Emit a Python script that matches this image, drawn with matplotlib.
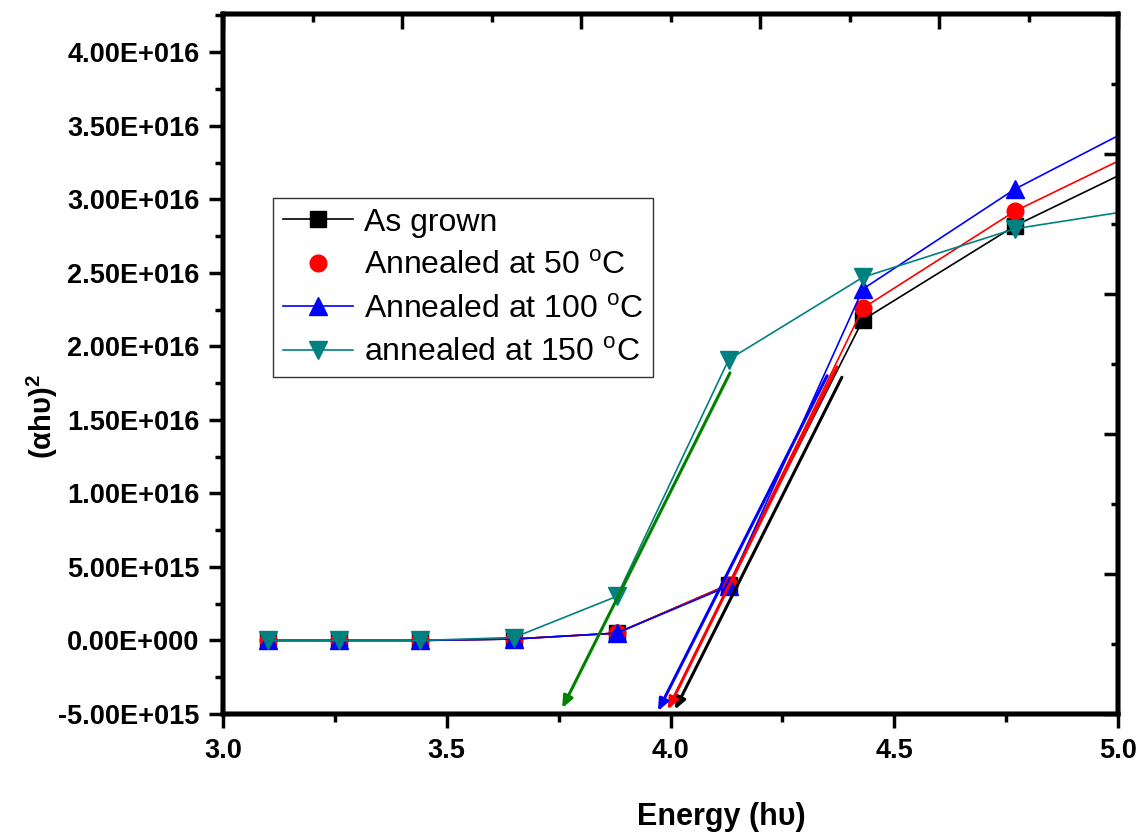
import numpy as np
import matplotlib
matplotlib.use('Agg')
import matplotlib.pyplot as plt
from matplotlib.lines import Line2D
from matplotlib.ticker import FuncFormatter, MultipleLocator

plt.rcParams['font.family'] = ['Liberation Sans', 'DejaVu Sans']
plt.rcParams['mathtext.fontset'] = 'custom'
plt.rcParams['mathtext.rm'] = 'Liberation Sans'
plt.rcParams['mathtext.bf'] = 'Liberation Sans:bold'

# photon energy (eV) of the measured wavelengths
energy = [3.10, 3.26, 3.44, 3.65, 3.88, 4.13, 4.43, 4.77, 5.17]

# (alpha h nu)^2 values
as_grown = [0.0, 0.0, 0.0, 0.1e15, 0.5e15, 3.8e15, 21.8e15, 28.2e15, 34.1e15]
ann_50 = [0.0, 0.0, 0.0, 0.1e15, 0.5e15, 3.8e15, 22.6e15, 29.2e15, 35.1e15]
ann_100 = [0.0, 0.0, 0.0, 0.1e15, 0.5e15, 3.7e15, 23.9e15, 30.7e15, 37.0e15]
ann_150 = [0.0, 0.0, 0.0, 0.2e15, 3.0e15, 19.1e15, 24.7e15, 28.0e15, 29.9e15]

# linear extrapolation lines (start point, arrow tip)
fit_x_start = [4.383, 4.372, 4.350, 4.133]
fit_y_start = [17.9e15, 18.6e15, 18.0e15, 18.2e15]
fit_x_tip = [4.010, 3.994, 3.972, 3.758]
fit_y_tip = [-4.7e15, -4.7e15, -4.8e15, -4.6e15]
fit_colors = ['black', 'red', 'blue', 'green']

labels = ['As grown', r'Annealed at 50 $^{\mathrm{o}}$C',
          r'Annealed at 100 $^{\mathrm{o}}$C', r'annealed at 150 $^{\mathrm{o}}$C']

fig = plt.figure(figsize=(11.44, 8.35), dpi=100)
ax = fig.add_axes([223/1144, 1-714/835, (1118-223)/1144, (714-14)/835])

ax.plot(energy, as_grown, color='black', lw=1.2, marker='s', ms=11)
ax.plot(energy, ann_50, color='red', lw=1.2, marker='o', ms=12)
ax.plot(energy, ann_100, color='blue', lw=1.2, marker='^', ms=13)
ax.plot(energy, ann_150, color='#008080', lw=1.2, marker='v', ms=13)

for i in range(4):
    ax.annotate('', xy=(fit_x_tip[i], fit_y_tip[i]),
                xytext=(fit_x_start[i], fit_y_start[i]),
                arrowprops=dict(arrowstyle='-|>,head_length=0.7,head_width=0.3',
                                color=fit_colors[i], lw=2.2, shrinkA=0, shrinkB=0))

ax.set_xlim(3.0, 5.0)
ax.set_ylim(-5e15, 4.26e16)
ax.xaxis.set_major_locator(MultipleLocator(0.5))
ax.xaxis.set_minor_locator(MultipleLocator(0.25))
ax.yaxis.set_major_locator(MultipleLocator(5e15))
ax.yaxis.set_minor_locator(MultipleLocator(2.5e15))


def sci(v, pos):
    m, e = f'{v:.2E}'.split('E')
    return f'{m}E{int(e):+04d}'


ax.yaxis.set_major_formatter(FuncFormatter(sci))
ax.xaxis.set_major_formatter(FuncFormatter(lambda v, p: f'{v:.1f}'))

for s in ax.spines.values():
    s.set_linewidth(3.2)
ax.tick_params(which='major', direction='out', length=10, width=2.5, pad=7)
ax.tick_params(which='minor', direction='out', length=6, width=2.5)
for t in ax.get_xticklabels() + ax.get_yticklabels():
    t.set_fontsize(19.5)
    t.set_fontweight('bold')

# top and right axes: ticks inside, no labels
axt = ax.twiny()
axt.set_xlim(0, 1)
axt.xaxis.set_major_locator(MultipleLocator(0.2))
axt.xaxis.set_minor_locator(MultipleLocator(0.1))
axt.tick_params(which='major', direction='in', length=11, width=2.5, labeltop=False)
axt.tick_params(which='minor', direction='in', length=6, width=2.5)
axr = ax.twinx()
axr.set_ylim(0, 1)
axr.yaxis.set_major_locator(MultipleLocator(0.2))
axr.yaxis.set_minor_locator(MultipleLocator(0.1))
axr.tick_params(which='major', direction='in', length=10, width=2.5, labelright=False)
axr.tick_params(which='minor', direction='in', length=5, width=2.5)
for a in (axt, axr):
    for s in a.spines.values():
        s.set_linewidth(3.2)

handles = [
    Line2D([], [], color='black', lw=1.2, marker='s', ms=12),
    Line2D([], [], color='red', ls='none', marker='o', ms=12),
    Line2D([], [], color='blue', lw=1.2, marker='^', ms=13),
    Line2D([], [], color='#008080', lw=1.2, marker='v', ms=13),
]
leg = axr.legend(handles, labels, loc='upper left',
                 bbox_to_anchor=(273/1144, 1-198/835), bbox_transform=fig.transFigure,
                 borderaxespad=0, fontsize=23, frameon=True, fancybox=False,
                 edgecolor='black', handlelength=2.2, handletextpad=0.35,
                 labelspacing=0.42, borderpad=0.3)
leg.get_frame().set_linewidth(1.0)

fig.text(721/1144, 1-817/835, 'Energy (hυ)', fontsize=22, fontweight='bold',
         ha='center', va='center')
fig.text(42/1144, 1-417/835, '(αhυ)$^\\mathbf{2}$', fontsize=21, fontweight='bold',
         ha='center', va='center', rotation=90)

fig.savefig('out.png', dpi=100)
